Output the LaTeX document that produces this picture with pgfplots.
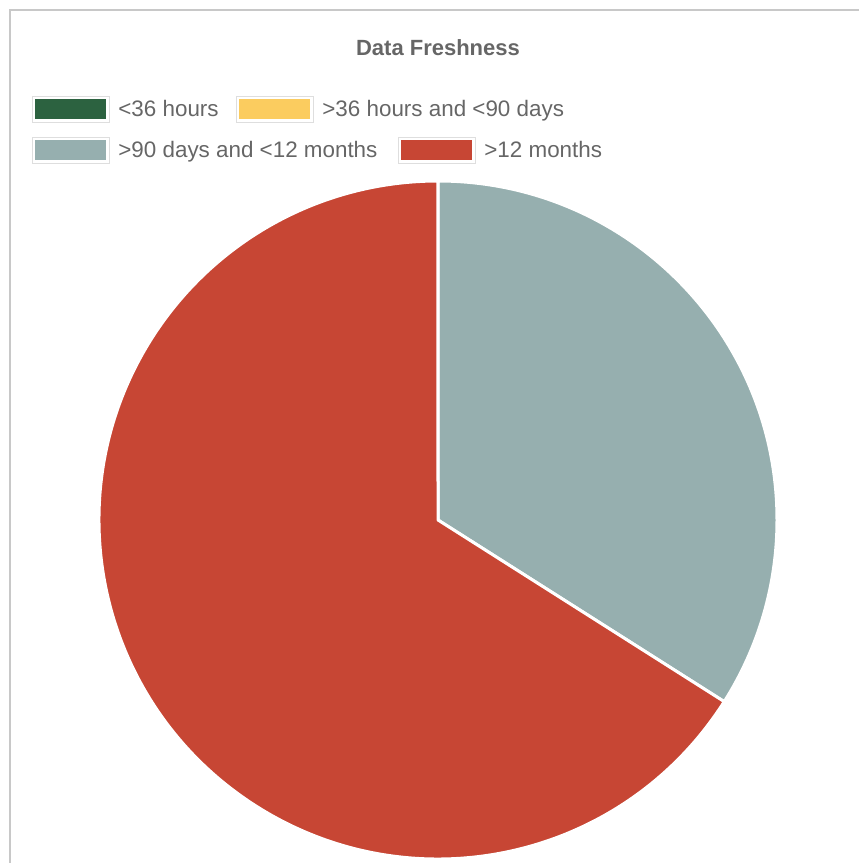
\documentclass[border=0pt]{standalone}
\usepackage{pgfplots}
\usepackage{pgfplotstable}
\usepackage{fontspec}
\setmainfont{Liberation Sans}
\pgfplotsset{compat=1.18}

\definecolor{c36h}{HTML}{2C6240}
\definecolor{c90d}{HTML}{FBCC5F}
\definecolor{c12m}{HTML}{96AFAF}
\definecolor{cold}{HTML}{C74634}
\definecolor{txtgrey}{HTML}{666666}
\definecolor{framegrey}{HTML}{C8C8C8}

% share of records per freshness bucket (percent)
\pgfplotstableread{
bucket value
1 0
2 0
3 34
4 66
}\freshdata

\pgfplotstablegetelem{0}{value}\of\freshdata \let\vA\pgfplotsretval
\pgfplotstablegetelem{1}{value}\of\freshdata \let\vB\pgfplotsretval
\pgfplotstablegetelem{2}{value}\of\freshdata \let\vC\pgfplotsretval
\pgfplotstablegetelem{3}{value}\of\freshdata \let\vD\pgfplotsretval
\pgfmathsetmacro\total{\vA+\vB+\vC+\vD}
% clockwise from the top, as the chart does
\pgfmathsetmacro\aA{90}
\pgfmathsetmacro\aB{\aA-(\vA/\total)*360}
\pgfmathsetmacro\aC{\aB-(\vB/\total)*360}
\pgfmathsetmacro\aD{\aC-(\vC/\total)*360}
\pgfmathsetmacro\aE{\aD-(\vD/\total)*360}

\newcommand\slice[3]{%
  \fill[#1, draw=white, line width=1.5pt, line join=round]
    (axis cs:438,343) -- ++(#2:339) arc[start angle=#2, end angle=#3, radius=339] -- cycle;}

\begin{document}
\begin{tikzpicture}
\begin{axis}[
    width=429.5pt, height=431.5pt,
    scale only axis,
    disabledatascaling,
    xmin=0, xmax=859, ymin=0, ymax=863,
    hide axis,
    clip=false,
]
% panel frame
\draw[framegrey, line width=1pt] (axis cs:9.5,0) -- (axis cs:9.5,853) -- (axis cs:859,853);

\slice{c12m}{\aC}{\aD}
\slice{cold}{\aD}{\aE}

\node[anchor=base, font=\bfseries\fontsize{11}{13}\selectfont, text=txtgrey, inner sep=0pt]
  at (axis cs:438,807) {Data Freshness};

% legend, row 1
\filldraw[fill=white, draw=framegrey!60, line width=0.3pt] (axis cs:32,741) rectangle (axis cs:109,767);
\fill[c36h] (axis cs:35,744) rectangle (axis cs:106,764);
\node[anchor=base west, inner sep=0pt, text=txtgrey, font=\fontsize{11.2}{13}\selectfont] at (axis cs:118,746) {<36 hours};
\filldraw[fill=white, draw=framegrey!60, line width=0.3pt] (axis cs:236,741) rectangle (axis cs:313,767);
\fill[c90d] (axis cs:239,744) rectangle (axis cs:310,764);
\node[anchor=base west, inner sep=0pt, text=txtgrey, font=\fontsize{11.2}{13}\selectfont] at (axis cs:322,746) {>36 hours and <90 days};
% legend, row 2
\filldraw[fill=white, draw=framegrey!60, line width=0.3pt] (axis cs:32,700) rectangle (axis cs:109,726);
\fill[c12m] (axis cs:35,703) rectangle (axis cs:106,723);
\node[anchor=base west, inner sep=0pt, text=txtgrey, font=\fontsize{11.2}{13}\selectfont] at (axis cs:118,705) {>90 days and <12 months};
\filldraw[fill=white, draw=framegrey!60, line width=0.3pt] (axis cs:398,700) rectangle (axis cs:475,726);
\fill[cold] (axis cs:401,703) rectangle (axis cs:472,723);
\node[anchor=base west, inner sep=0pt, text=txtgrey, font=\fontsize{11.2}{13}\selectfont] at (axis cs:484,705) {>12 months};
\end{axis}
% arcs' control points stick out below the pie; keep the page to the panel
\pgfresetboundingbox
\path[use as bounding box] (current axis.south west) rectangle (current axis.north east);
\end{tikzpicture}
\end{document}
